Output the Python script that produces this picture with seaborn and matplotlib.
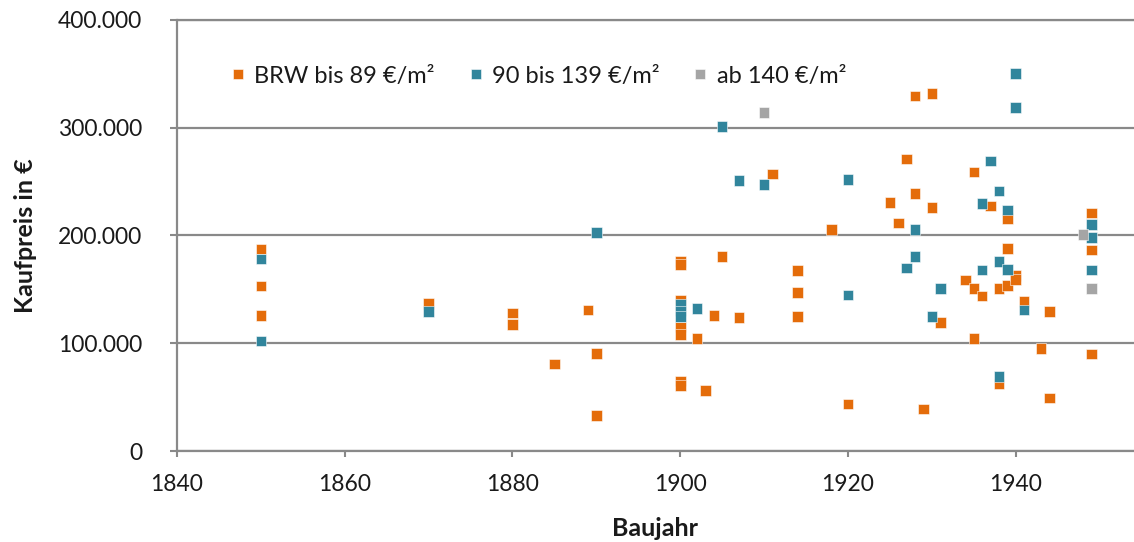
import matplotlib
matplotlib.use("Agg")
import matplotlib.pyplot as plt
from matplotlib.ticker import FuncFormatter, MultipleLocator
import pandas as pd
import seaborn as sns

# Baujahr / Kaufpreis (in Tausend €) je Bodenrichtwert-Klasse
brw_low_year = [1850, 1850, 1850, 1870, 1880, 1880, 1885, 1889, 1890, 1890,
                1900, 1900, 1900, 1900, 1900, 1900, 1900, 1902, 1903, 1904,
                1905, 1907, 1911, 1914, 1914, 1914, 1918, 1920, 1925, 1926,
                1927, 1928, 1928, 1929, 1930, 1930, 1931, 1934, 1935, 1935,
                1935, 1936, 1937, 1938, 1938, 1939, 1939, 1939, 1940, 1940,
                1941, 1943, 1944, 1944, 1949, 1949, 1949]
brw_low_price = [187.5, 153, 126, 137, 128, 117.6, 80.7, 131, 90.3, 33,
                 176, 173, 140, 115, 108, 65, 60.6, 104.6, 56, 126,
                 180.7, 123.7, 257, 167.7, 147.3, 124.6, 205.8, 43.6, 230.8, 211.6,
                 271, 329.5, 239, 39, 332, 226, 119, 158.7, 259, 151,
                 104.6, 144, 227.4, 151, 62, 216, 188, 153.4, 163, 159,
                 139, 95.3, 129.7, 49, 221, 186.5, 90]

brw_mid_year = [1850, 1850, 1870, 1890, 1900, 1900, 1900, 1902, 1905, 1907,
                1910, 1920, 1920, 1927, 1928, 1928, 1930, 1931, 1936, 1936,
                1937, 1938, 1938, 1938, 1939, 1939, 1940, 1940, 1941, 1949,
                1949, 1949]
brw_mid_price = [178, 102, 129.3, 203, 136, 130, 125, 132, 301, 251,
                 247.5, 252, 144.8, 170, 205.8, 180.7, 124.6, 151, 229.5, 168,
                 269, 241.3, 175.7, 69, 223.7, 168.6, 350.5, 318.6, 131, 210.4,
                 198, 168]

brw_high_year = [1910, 1948, 1949]
brw_high_price = [314, 201, 151]

labels = ["BRW bis 89 €/m²", "90 bis 139 €/m²", "ab 140 €/m²"]
colors = ["#E46C0A", "#31859C", "#A5A5A5"]

df = pd.concat([
    pd.DataFrame({"Baujahr": brw_low_year,
                  "Kaufpreis": [p * 1000 for p in brw_low_price],
                  "Klasse": labels[0]}),
    pd.DataFrame({"Baujahr": brw_mid_year,
                  "Kaufpreis": [p * 1000 for p in brw_mid_price],
                  "Klasse": labels[1]}),
    pd.DataFrame({"Baujahr": brw_high_year,
                  "Kaufpreis": [p * 1000 for p in brw_high_price],
                  "Klasse": labels[2]}),
], ignore_index=True)

sns.set_theme(style="white")
plt.rcParams["font.family"] = ["Lato", "DejaVu Sans"]
text_color = "#1a1a1a"
axis_grey = "#898989"

fig = plt.figure(figsize=(11.34, 5.42), dpi=100)
ax = fig.add_axes([177 / 1134, 91 / 542, 1 - 177 / 1134, 431 / 542])

sns.scatterplot(data=df, x="Baujahr", y="Kaufpreis", hue="Klasse",
                hue_order=labels, palette=colors, marker="s", s=58,
                edgecolor=(1, 1, 1, 0.55), linewidth=0.7, ax=ax, zorder=3)

ax.set_xlim(1840, 1954.1)
ax.set_ylim(0, 400000)
ax.xaxis.set_major_locator(MultipleLocator(20))
ax.yaxis.set_major_locator(MultipleLocator(100000))
ax.yaxis.set_major_formatter(
    FuncFormatter(lambda v, _: f"{int(v):,}".replace(",", ".")))

ax.grid(axis="y", color=axis_grey, linewidth=1.6, zorder=0)
ax.grid(axis="x", visible=False)
for side in ["top", "right"]:
    ax.spines[side].set_visible(False)
for side in ["left", "bottom"]:
    ax.spines[side].set_color(axis_grey)
    ax.spines[side].set_linewidth(1.6)
ax.axhline(400000, color=axis_grey, linewidth=1.6, clip_on=False, zorder=1)

ax.tick_params(axis="y", direction="out", length=5, width=1.5, color=axis_grey,
               pad=20, labelsize=16.5, labelcolor=text_color, left=True)
ax.tick_params(axis="x", direction="out", length=4.5, width=1.5, color=axis_grey,
               pad=12, labelsize=16.5, labelcolor=text_color, bottom=True)

ax.set_xlabel("Baujahr", fontsize=18, fontweight="bold", color=text_color,
              labelpad=16)
ax.set_ylabel("Kaufpreis in €", fontsize=18, fontweight="bold", color=text_color,
              labelpad=15)

handles, hl = ax.get_legend_handles_labels()
ax.legend(handles, hl, loc="center left", ncol=3, frameon=False,
          bbox_to_anchor=(231 / 1134, (542 - 76) / 542),
          bbox_transform=fig.transFigure, fontsize=17, labelcolor=text_color,
          handlelength=0.6, handletextpad=0.38, columnspacing=1.44,
          borderpad=0, borderaxespad=0, markerscale=1.0)

fig.savefig("out.png", dpi=100)
